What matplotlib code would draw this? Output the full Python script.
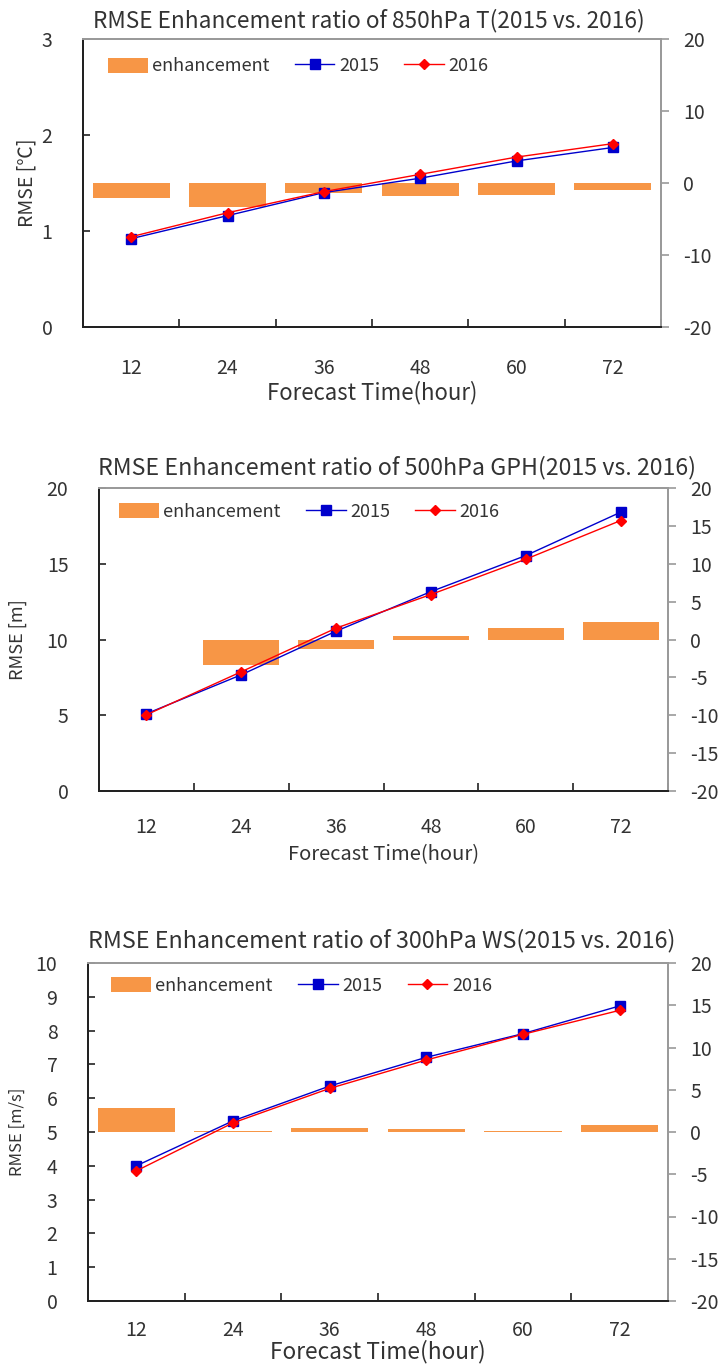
import numpy as np
import matplotlib
matplotlib.use('Agg')
import matplotlib.pyplot as plt

plt.rcParams['font.family'] = ['Noto Sans CJK KR', 'DejaVu Sans']
plt.rcParams['axes.unicode_minus'] = False

hours = ['12', '24', '36', '48', '60', '72']

# 850hPa T
t_2015 = [0.92, 1.16, 1.40, 1.55, 1.73, 1.87]
t_2016 = [0.94, 1.19, 1.41, 1.59, 1.77, 1.91]
t_enh = [-2.1, -3.3, -1.4, -1.85, -1.6, -1.0]

# 500hPa GPH
gph_2015 = [5.10, 7.67, 10.55, 13.16, 15.54, 18.4]
gph_2016 = [5.03, 7.87, 10.75, 12.97, 15.30, 17.85]
gph_enh = [-0.1, -3.35, -1.27, 0.48, 1.58, 2.37]

# 300hPa WS
ws_2015 = [4.0, 5.33, 6.36, 7.21, 7.91, 8.73]
ws_2016 = [3.85, 5.27, 6.29, 7.13, 7.89, 8.6]
ws_enh = [2.82, 0.1, 0.45, 0.3, 0.15, 0.77]

W, H = 723, 1365
ORANGE = '#F79646'
GRAY = '#9a9a9a'
TXT = '#333333'


def px_rect(l, t, r, b):
    return [l / W, 1 - b / H, (r - l) / W, (b - t) / H]


def panel(rect, title, ylabel, ymax, ystep, rstep, s15, s16, enh,
          title_fs, title_x, xl_fs, yl_fs, leg_xy, ylab_x, xpad, xlpad, tpad):
    ax = fig.add_axes(rect)
    ax2 = ax.twinx()
    x = np.arange(len(hours))

    bars = ax2.bar(x, enh, width=0.8, color=ORANGE, zorder=1)
    ax2.set_ylim(-20, 20)
    ax2.set_yticks(np.arange(-20, 21, rstep))

    # lines on top of bars
    ax.set_zorder(ax2.get_zorder() + 1)
    ax.patch.set_visible(False)
    l1, = ax.plot(x, s15, color='#0000CC', marker='s', markersize=7, lw=1.0)
    l2, = ax.plot(x, s16, color='#FF0000', marker='D', markersize=5, lw=1.0)
    ax.set_ylim(0, ymax)
    ax.set_yticks(np.arange(0, ymax + 0.001, ystep))
    ax.set_xlim(-0.5, len(hours) - 0.5)

    ax.set_xticks(np.arange(0.5, len(hours) - 0.4, 1))
    ax.set_xticklabels([])
    ax.set_xticks(x, minor=True)
    ax.set_xticklabels(hours, minor=True)
    ax.tick_params(axis='x', which='major', direction='in', length=6, width=1.2, color='#222222')
    ax.tick_params(axis='x', which='minor', length=0, pad=xpad, labelsize=14, labelcolor=TXT)
    ax.tick_params(axis='y', direction='in', length=5, width=1.2, color='#222222',
                   labelsize=14, labelcolor=TXT, pad=22)
    ax2.tick_params(axis='y', direction='out', length=6, width=1.2, color=GRAY,
                    labelsize=14, labelcolor=TXT, pad=10)

    for a in (ax, ax2):
        a.spines['top'].set_color(GRAY)
        a.spines['right'].set_color(GRAY)
        a.spines['left'].set_color('#222222')
        a.spines['bottom'].set_color('#222222')
        for s in a.spines.values():
            s.set_linewidth(1.4)

    ax.set_title(title, fontsize=title_fs, color=TXT, pad=tpad, x=title_x)
    ax.set_xlabel('Forecast Time(hour)', fontsize=xl_fs, color=TXT, labelpad=xlpad)
    ax.set_ylabel(ylabel, fontsize=yl_fs, color=TXT)
    ax.yaxis.set_label_coords(ylab_x, 0.5)

    ax.legend([bars, l1, l2], ['enhancement', '2015', '2016'], ncol=3, frameon=False,
              loc='center left', bbox_to_anchor=leg_xy, fontsize=13, handlelength=2.2,
              handleheight=0.9, handletextpad=0.25, columnspacing=1.4, borderpad=0,
              borderaxespad=0, labelcolor=TXT)
    return ax


fig = plt.figure(figsize=(W / 100, H / 100), dpi=100)

panel(px_rect(83, 39, 661, 327), 'RMSE Enhancement ratio of 850hPa T(2015 vs. 2016)',
      'RMSE [℃]', 3, 1, 10, t_2015, t_2016, t_enh,
      16.3, 0.495, 16, 14, (0.043, 0.905), -0.078, 22, 1.5, 8)
panel(px_rect(99, 488, 668, 791), 'RMSE Enhancement ratio of 500hPa GPH(2015 vs. 2016)',
      'RMSE [m]', 20, 5, 5, gph_2015, gph_2016, gph_enh,
      16.7, 0.524, 14.5, 13, (0.035, 0.921), -0.127, 19, 4, 10)
panel(px_rect(88, 963, 668, 1301), 'RMSE Enhancement ratio of 300hPa WS(2015 vs. 2016)',
      'RMSE [m/s]', 10, 1, 5, ws_2015, ws_2016, ws_enh,
      16.8, 0.507, 16.4, 12, (0.04, 0.932), -0.107, 14, -1, 11)

fig.savefig('out.png', dpi=100)
